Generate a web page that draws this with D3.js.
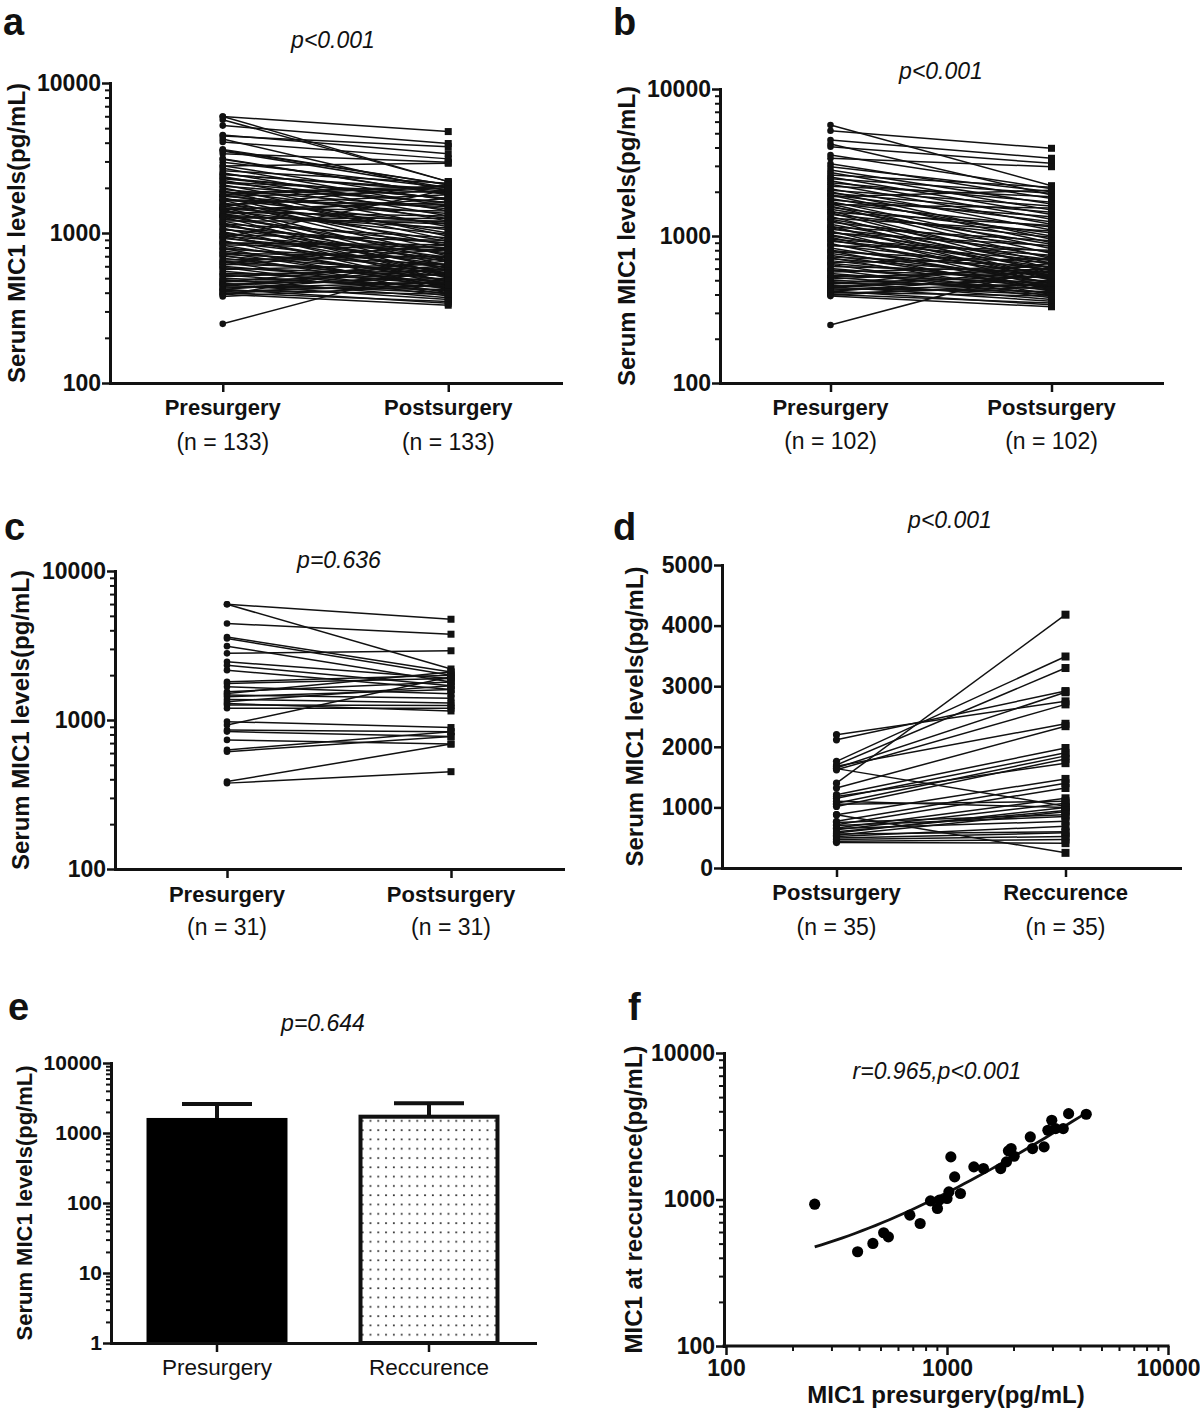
<!DOCTYPE html>
<html><head><meta charset="utf-8">
<script src="https://cdn.jsdelivr.net/npm/d3@7"></script>
<style>
body{margin:0;background:#fff}
svg{display:block}
text{font-family:"Liberation Sans",Arial,Helvetica,sans-serif;fill:#111}
</style>
</head><body>
<svg id="chart" width="1200" height="1418"></svg>
<script>
// ---------------- DATA ----------------
// Panel b: 102 patients, presurgery vs postsurgery (pg/mL)
const bPre = [5690,5200,4500,4230,4050,3560,3380,3100,2960,2810,2700,2600,2520,2450,2380,2300,2250,2180,2100,2050,
  2000,1950,1900,1900,1850,1800,1760,1720,1680,1650,1640,1600,1560,1520,1480,1450,1440,1400,1360,1320,
  1300,1280,1240,1200,1170,1150,1140,1110,1080,1060,1050,1020,1000,980,950,940,920,890,870,860,
  830,800,790,780,760,740,720,710,700,680,660,650,640,620,600,590,585,570,555,540,
  530,525,510,500,490,480,475,470,460,455,452,445,438,430,422,420,415,408,400,395,390,248];
const bPost = [2200,3950,3380,1900,3120,2100,2960,1800,2000,1650,1500,2150,1400,1950,1300,1700,1200,1850,1100,1600,
  950,1450,1250,900,2050,1000,1350,820,1150,760,1550,700,1050,880,650,1180,600,980,560,1080,
  720,520,850,640,500,930,580,780,470,690,860,540,610,450,740,520,680,430,590,800,
  480,560,420,660,510,440,620,400,540,460,700,490,390,570,450,380,520,620,430,480,
  560,410,600,440,370,530,460,650,400,500,360,580,420,470,340,540,390,450,350,480,330,620];
// Panel c: 31 patients, presurgery vs postsurgery
const cPre = [5984,5984,4440,3610,3520,3130,2800,2460,2330,2160,1806,1760,1670,1548,1508,1470,1433,1375,1327,1260,
  1200,926,975,857,836,735,630,613,386,377,1290];
const cPost = [4745,2200,3765,2100,2000,1800,2915,1900,1700,1600,2000,1900,1500,1800,2100,1400,1600,1300,1700,1250,
  1200,1950,890,835,774,690,835,774,690,450,1150];
// Panel a: all 133 patients (= panel b + panel c)
const aPre = bPre.concat(cPre);
const aPost = bPost.concat(cPost);
// Panel d: 35 patients, postsurgery vs recurrence
const dPost = [2200,2115,1760,1700,1650,1620,1400,1680,1320,1640,1210,1150,1070,1015,1180,880,770,715,880,660,
  630,1050,1100,577,540,700,650,520,495,470,440,420,600,750,560];
const dRec = [2750,2920,3490,3300,2900,2700,4180,2380,2340,1020,1980,1900,1850,1800,1730,1470,1400,1320,250,1150,
  1070,1100,1000,1000,930,850,770,690,580,520,470,410,950,880,600];
// Panel e: mean and mean+SD
const eCategories = ["Presurgery","Reccurence"];
const eMeans = [1640,1710];
const eUpper = [2600,2660];
// Panel f: scatter presurgery vs recurrence
const fPre = [252,394,462,517,543,679,756,842,905,923,1000,1020,1041,1083,1150,1323,1462,1750,1858,1896,
  1950,2013,2382,2438,2750,2861,2979,3099,3357,3550,4266];
const fRec = [929,440,501,593,556,782,686,979,868,990,1016,1128,1954,1427,1099,1670,1626,1626,1807,2148,
  2228,1974,2673,2228,2286,2970,3475,3048,3048,3854,3818];
const fitIntercept = 260, fitSlope = 0.853, fitRange = [252, 4266];
// Ticks
const logMajor = [100,1000,10000];
const logMinor = [200,300,400,500,600,700,800,900,2000,3000,4000,5000,6000,7000,8000,9000];
const eMajor = [1,10,100,1000,10000];
const eMinor = [2,3,4,5,6,7,8,9,20,30,40,50,60,70,80,90,200,300,400,500,600,700,800,900,2000,3000,4000,5000,6000,7000,8000,9000];
const dTicks = [0,1000,2000,3000,4000,5000];

// ---------------- DRAW ----------------
const svg = d3.select("#chart");
const FONT_TICK = 23, FONT_TITLE = 24;

function styleAxis(g, fs){
  g.select(".domain").attr("stroke","#111").attr("stroke-width",3).attr("stroke-linecap","square");
  g.selectAll(".tick line").attr("stroke","#111").attr("stroke-width",2.5);
  g.selectAll(".tick text").attr("font-size",fs||FONT_TICK).attr("font-weight","bold").attr("fill","#111")
    .attr("font-family","Liberation Sans, Arial, sans-serif");
}

function yAxis(y, ax, major, minor, fs){
  if(minor){
    const gm = svg.append("g").attr("transform",`translate(${ax},0)`)
      .call(d3.axisLeft(y).tickValues(minor).tickSize(5).tickSizeOuter(0).tickFormat(""));
    gm.select(".domain").remove();
    gm.selectAll(".tick line").attr("stroke","#111").attr("stroke-width",2);
  }
  const g = svg.append("g").attr("transform",`translate(${ax},0)`)
    .call(d3.axisLeft(y).tickValues(major).tickSize(8).tickSizeOuter(0).tickPadding(1).tickFormat(d3.format("d")));
  styleAxis(g, fs);
  return g;
}

function letter(t,x,yb){
  svg.append("text").attr("x",x).attr("y",yb).attr("font-size",38).attr("font-weight","bold").text(t);
}
function pText(t,x,yb){
  svg.append("text").attr("x",x).attr("y",yb).attr("text-anchor","middle").attr("font-size",23)
    .attr("font-style","italic").text(t);
}
function yTitle(t,x,yc,fs){
  svg.append("text").attr("transform",`translate(${x},${yc}) rotate(-90)`).attr("text-anchor","middle")
    .attr("dy","0.35em").attr("font-size",fs||FONT_TITLE).attr("font-weight","bold").text(t);
}

function paired(cfg){
  const x = d3.scalePoint().domain(cfg.cats).range([cfg.x0,cfg.x1]).padding(0.5);
  const y = cfg.log ? d3.scaleLog().domain([100,10000]).range([cfg.yb,cfg.yt])
                    : d3.scaleLinear().domain([0,5000]).range([cfg.yb,cfg.yt]);
  const g = svg.append("g");
  const xl = x(cfg.cats[0]), xr = x(cfg.cats[1]);
  cfg.left.forEach((v,i)=>{
    g.append("line").attr("x1",xl).attr("y1",y(v)).attr("x2",xr).attr("y2",y(cfg.right[i]))
      .attr("stroke","#111").attr("stroke-width",1.5);
  });
  g.selectAll("circle.l").data(cfg.left).join("circle").attr("cx",xl).attr("cy",d=>y(d)).attr("r",cfg.r||3.3).attr("fill","#111");
  const s = cfg.sq||7;
  g.selectAll("rect.r").data(cfg.right).join("rect").attr("x",xr-s/2).attr("y",d=>y(d)-s/2).attr("width",s).attr("height",s).attr("fill","#111");
  // axes
  if(cfg.log) yAxis(y,cfg.x0,logMajor,logMinor);
  else yAxis(y,cfg.x0,dTicks,null);
  const gx = svg.append("g").attr("transform",`translate(0,${cfg.yb})`)
    .call(d3.axisBottom(x).tickSize(9).tickSizeOuter(0).tickFormat(""));
  styleAxis(gx);
  cfg.cats.forEach(c=>{
    svg.append("text").attr("x",x(c)).attr("y",cfg.catY).attr("text-anchor","middle").attr("font-size",22)
      .attr("font-weight","bold").text(c);
    svg.append("text").attr("x",x(c)).attr("y",cfg.nY).attr("text-anchor","middle").attr("font-size",23)
      .text(`(n = ${cfg.n})`);
  });
  yTitle("Serum MIC1 levels(pg/mL)",cfg.titleX,(cfg.yt+cfg.yb)/2);
  pText(cfg.p,cfg.pX,cfg.pY);
  letter(cfg.letter,cfg.lx,cfg.ly);
}

// Panel a
paired({cats:["Presurgery","Postsurgery"],left:aPre,right:aPost,log:true,n:133,
  x0:110,x1:561,yt:83,yb:383,catY:415,nY:450,titleX:17,p:"p<0.001",pX:333,pY:48,letter:"a",lx:3,ly:35});
// Panel b
paired({cats:["Presurgery","Postsurgery"],left:bPre,right:bPost,log:true,n:102,
  x0:720,x1:1162,yt:89,yb:383,catY:415,nY:449,titleX:627,p:"p<0.001",pX:941,pY:79,letter:"b",lx:613,ly:35});
// Panel c
paired({cats:["Presurgery","Postsurgery"],left:cPre,right:cPost,log:true,n:31,
  x0:115,x1:563,yt:571,yb:869,catY:902,nY:935,titleX:21,p:"p=0.636",pX:339,pY:568,letter:"c",lx:4,ly:540});
// Panel d
paired({cats:["Postsurgery","Reccurence"],left:dPost,right:dRec,log:false,n:35,r:3.6,sq:8,
  x0:722,x1:1180,yt:565,yb:868,catY:900,nY:935,titleX:635,p:"p<0.001",pX:950,pY:528,letter:"d",lx:613,ly:540});

// Panel e: bar chart
(function(){
  const x0=111, x1=535, yt=1063, yb=1343;
  const x = d3.scaleBand().domain(eCategories).range([x0,x1]).paddingInner(0.335).paddingOuter(0.1675);
  const y = d3.scaleLog().domain([1,10000]).range([yb,yt]);
  const defs = svg.append("defs");
  const pat = defs.append("pattern").attr("id","dots").attr("patternUnits","userSpaceOnUse")
    .attr("width",7.8).attr("height",9.3);
  pat.append("rect").attr("width",7.8).attr("height",9.3).attr("fill","#fff");
  pat.append("rect").attr("x",3).attr("y",4).attr("width",1.7).attr("height",1.7).attr("fill","#222");
  const g = svg.append("g");
  eCategories.forEach((c,i)=>{
    const cx = x(c)+x.bandwidth()/2;
    g.append("line").attr("x1",cx).attr("x2",cx).attr("y1",y(eMeans[i])).attr("y2",y(eUpper[i]))
      .attr("stroke","#111").attr("stroke-width",4);
    g.append("line").attr("x1",cx-35).attr("x2",cx+35).attr("y1",y(eUpper[i])).attr("y2",y(eUpper[i]))
      .attr("stroke","#111").attr("stroke-width",4);
    if(i===0){
      g.append("rect").attr("x",x(c)).attr("y",y(eMeans[i])).attr("width",x.bandwidth())
        .attr("height",yb-y(eMeans[i])).attr("fill","#000");
    } else {
      g.append("rect").attr("x",x(c)+2).attr("y",y(eMeans[i])).attr("width",x.bandwidth()-4)
        .attr("height",yb-y(eMeans[i])).attr("fill","url(#dots)").attr("stroke","#111").attr("stroke-width",4);
    }
  });
  yAxis(y,x0,eMajor,eMinor,21);
  const gx = svg.append("g").attr("transform",`translate(0,${yb})`)
    .call(d3.axisBottom(x).tickSize(9).tickSizeOuter(0).tickFormat(""));
  styleAxis(gx);
  eCategories.forEach(c=>{
    svg.append("text").attr("x",x(c)+x.bandwidth()/2).attr("y",1375).attr("text-anchor","middle")
      .attr("font-size",22.5).attr("font-weight",500).text(c);
  });
  yTitle("Serum MIC1 levels(pg/mL)",24,(yt+yb)/2,22);
  pText("p=0.644",323,1031);
  letter("e",8,1020);
})();

// Panel f: scatter
(function(){
  const ax=724, x0=726, x1=1168, yt=1053, yb=1346;
  const x = d3.scaleLog().domain([100,10000]).range([x0,x1]);
  const y = d3.scaleLog().domain([100,10000]).range([yb,yt]);
  const g = svg.append("g");
  // fitted regression line (linear fit drawn on log axes)
  const xs = d3.range(0,41).map(k=>fitRange[0]*Math.pow(fitRange[1]/fitRange[0],k/40));
  g.append("path").datum(xs).attr("fill","none").attr("stroke","#111").attr("stroke-width",2.8)
    .attr("d",d3.line().x(d=>x(d)).y(d=>y(fitIntercept+fitSlope*d)));
  g.selectAll("circle").data(fPre).join("circle").attr("cx",d=>x(d)).attr("cy",(d,i)=>y(fRec[i]))
    .attr("r",5.6).attr("fill","#000");
  yAxis(y,ax,logMajor,logMinor);
  const gm = svg.append("g").attr("transform",`translate(0,${yb})`)
    .call(d3.axisBottom(x).tickValues(logMinor).tickSize(5).tickSizeOuter(0).tickFormat(""));
  gm.select(".domain").remove();
  gm.selectAll(".tick line").attr("stroke","#111").attr("stroke-width",2);
  const gx = svg.append("g").attr("transform",`translate(0,${yb})`)
    .call(d3.axisBottom(x).tickValues(logMajor).tickSize(9).tickSizeOuter(0).tickPadding(5).tickFormat(d3.format("d")));
  styleAxis(gx);
  gx.select(".domain").attr("d",`M${ax},0H${x1}`);
  svg.append("text").attr("x",946).attr("y",1403).attr("text-anchor","middle").attr("font-size",FONT_TITLE)
    .attr("font-weight","bold").text("MIC1 presurgery(pg/mL)");
  yTitle("MIC1 at reccurence(pg/mL)",634,(yt+yb)/2);
  pText("r=0.965,p<0.001",937,1079);
  letter("f",628,1020);
})();
</script>
</body></html>
